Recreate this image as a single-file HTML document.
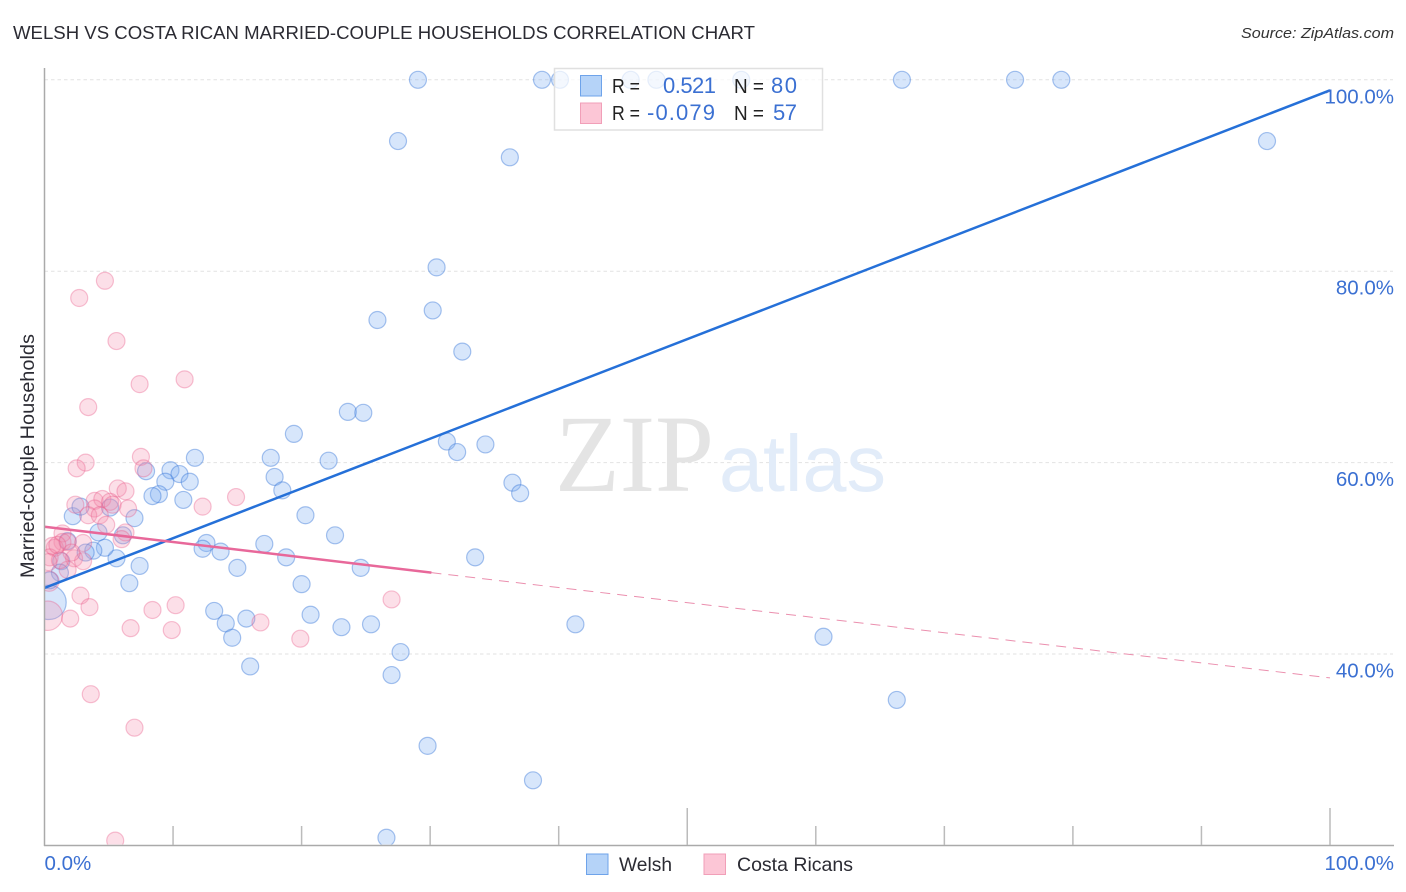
<!DOCTYPE html>
<html lang="en">
<head>
<meta charset="utf-8">
<title>Welsh vs Costa Rican Married-Couple Households Correlation Chart</title>
<style>
html,body{margin:0;padding:0;background:#fff;width:1406px;height:892px;overflow:hidden}
svg{display:block;font-family:"Liberation Sans",sans-serif;filter:blur(0.35px)}
</style>
</head>
<body>
<svg id="chart" width="1406" height="892" viewBox="0 0 1406 892" xmlns="http://www.w3.org/2000/svg">
  <defs>
    <clipPath id="plot-clip"><rect x="45" y="60" width="1350" height="784.5"></rect></clipPath>
  </defs>
  <rect x="0" y="0" width="1406" height="892" fill="#fff"></rect>
  <text x="13" y="39" font-size="18.5" fill="#2b2b33" textLength="742" lengthAdjust="spacingAndGlyphs">WELSH VS COSTA RICAN MARRIED-COUPLE HOUSEHOLDS CORRELATION CHART</text>
  <text x="1394" y="38" font-size="15" font-style="italic" fill="#333" text-anchor="end" textLength="153" lengthAdjust="spacingAndGlyphs">Source: ZipAtlas.com</text>
  <g id="grid"></g>
  <g>
    <text x="555" y="491" font-family="'Liberation Serif',serif" font-size="110" fill="#e4e4e4" textLength="159" lengthAdjust="spacingAndGlyphs">ZIP</text>
    <text x="719" y="491" font-size="80" fill="#e2ecf9" textLength="167" lengthAdjust="spacingAndGlyphs">atlas</text>
  </g>
  <g id="points" clip-path="url(#plot-clip)"></g>
  <g id="trends"></g>
  <g id="axes">
    <line x1="44.5" y1="68" x2="44.5" y2="846" stroke="#aaa" stroke-width="1.5"></line>
    <line x1="44" y1="845.5" x2="1394" y2="845.5" stroke="#aaa" stroke-width="1.5"></line>
  </g>
  <g id="ytick-labels"></g>
  <g id="xtick-labels"></g>
  <text transform="translate(34,578) rotate(-90)" font-size="19" fill="#2b2b33" textLength="244" lengthAdjust="spacingAndGlyphs">Married-couple Households</text>

  <g>
    <rect x="554.5" y="68.5" width="268" height="61.5" fill="#fff" fill-opacity="0.72" stroke="#e0e0e0" stroke-width="1.5"></rect>
    <rect x="580.5" y="75.5" width="21" height="20.5" fill="#b5d3f8" stroke="#6ea3ea" stroke-width="1"></rect>
    <rect x="580.5" y="103" width="21" height="20.5" fill="#fcc6d6" stroke="#f19fb8" stroke-width="1"></rect>
    <text x="612" y="93" font-size="20" fill="#222" textLength="28" lengthAdjust="spacingAndGlyphs">R =</text>
    <text x="663" y="93" font-size="22" fill="#3b70d2" textLength="53">0.521</text>
    <text x="734" y="93" font-size="20" fill="#222" textLength="30" lengthAdjust="spacingAndGlyphs">N =</text>
    <text x="771" y="93" font-size="22" fill="#3b70d2" textLength="26">80</text>
    <text x="612" y="120" font-size="20" fill="#222" textLength="28" lengthAdjust="spacingAndGlyphs">R =</text>
    <text x="647" y="120" font-size="22" fill="#3b70d2" textLength="68">-0.079</text>
    <text x="734" y="120" font-size="20" fill="#222" textLength="30" lengthAdjust="spacingAndGlyphs">N =</text>
    <text x="773" y="120" font-size="22" fill="#3b70d2" textLength="24">57</text>
  </g>

  <g>
    <rect x="586.5" y="854" width="21.5" height="20.5" fill="#b5d3f8" stroke="#6ea3ea" stroke-width="1"></rect>
    <text x="619" y="871" font-size="19.5" fill="#2b2b33" textLength="53" lengthAdjust="spacingAndGlyphs">Welsh</text>
    <rect x="704" y="854" width="21.5" height="20.5" fill="#fcc6d6" stroke="#f19fb8" stroke-width="1"></rect>
    <text x="737" y="871" font-size="19.5" fill="#2b2b33" textLength="116" lengthAdjust="spacingAndGlyphs">Costa Ricans</text>
  </g>
</svg>
<script>
const yGridValues = [100, 80, 60, 40];
const yTickLabels = ['100.0%', '80.0%', '60.0%', '40.0%'];
const xMinorTicks = [10, 20, 30, 40, 60, 70, 80, 90];
const xMajorTicks = [50, 100];
const xTickValues = [0, 100];
const xTickLabels = ['0.0%', '100.0%'];

const welshX = [29.05, 38.7, 40.1, 45.6, 47.6, 54.2, 66.7, 75.5, 79.1, 27.5, 36.2, 95.1, 30.5, 30.2, 25.9, 32.5, 23.6, 24.8, 31.3, 32.1, 34.3, 22.1, 36.4, 37.0, 19.4, 11.7, 17.6, 9.8, 10.5, 7.9, 9.4, 11.3, 17.9, 18.5, 8.9, 8.4, 10.8, 20.3, 2.2, 2.8, 5.1, 7.0, 4.2, 6.1, 12.6, 12.3, 13.7, 17.1, 15.0, 18.8, 20.0, 20.7, 7.4, 5.6, 6.6, 4.7, 3.8, 3.2, 1.8, 1.3, 1.2, 0.4, 13.2, 14.1, 15.7, 14.6, 16.0, 22.6, 24.6, 23.1, 25.4, 27.7, 27.0, 29.8, 38.0, 26.6, 33.5, 41.3, 60.6, 66.3];
const welshY = [100, 100, 100, 100, 100, 100, 100, 100, 100, 93.6, 91.9, 93.6, 80.4, 75.9, 74.9, 71.6, 65.3, 65.2, 62.2, 61.1, 61.9, 60.2, 57.9, 56.8, 63.0, 60.5, 60.5, 59.2, 58.8, 59.1, 58.0, 58.0, 58.5, 57.1, 56.7, 56.5, 56.1, 54.5, 54.4, 55.4, 55.3, 54.2, 52.7, 52.4, 51.6, 51.0, 50.7, 51.5, 49.0, 50.1, 47.3, 44.1, 49.2, 50.0, 47.4, 51.1, 50.8, 50.6, 51.8, 49.7, 48.5, 47.7, 44.5, 43.2, 43.7, 41.7, 38.7, 52.4, 49.0, 42.8, 43.1, 40.2, 37.8, 30.4, 26.8, 20.8, 50.1, 43.1, 41.8, 35.2];
const welshLargeX = [0.35];
const welshLargeY = [45.4];
const welshLargeWeight = [4.1];

const costaX = [7.5, 7.7, 3.2, 2.5, 5.7, 6.3, 14.9, 12.3, 2.4, 3.9, 4.5, 5.1, 5.3, 6.5, 3.9, 3.4, 4.3, 4.8, 6.3, 6.0, 1.4, 1.4, 0.8, 0.6, 3.0, 0.4, 2.3, 3.0, 1.8, 2.8, 3.5, 2.0, 8.4, 10.2, 6.7, 9.9, 16.8, 19.9, 4.7, 2.7, 5.6, 7.4, 10.9, 3.4, 27.0, 3.6, 7.0, 5.5, 1.8, 1.0, 2.1, 1.2, 0.3];
const costaY = [60.6, 59.4, 60.0, 59.4, 57.3, 57.0, 56.4, 55.4, 55.6, 56.0, 56.2, 55.9, 55.6, 55.2, 55.2, 54.5, 54.5, 53.5, 52.7, 52.0, 52.6, 51.7, 51.1, 51.3, 51.6, 50.1, 50.0, 49.7, 48.8, 46.1, 44.9, 43.7, 44.6, 45.1, 42.7, 42.5, 43.3, 41.6, 79.0, 77.2, 72.7, 68.2, 68.7, 65.8, 45.7, 35.8, 32.3, 20.5, 51.7, 51.4, 50.6, 49.8, 49.6];
const costaLargeX = [0.35, 0.25];
const costaLargeY = [47.6, 44.0];
const costaLargeWeight = [1.4, 3.0];

const welshTrendX = [0, 100];
const welshTrendY = [46.9, 98.9];
const costaTrendSolidX = [0, 30.1];
const costaTrendSolidY = [53.3, 48.5];
const costaTrendDashX = [30.1, 100];
const costaTrendDashY = [48.5, 37.5];

const SVG_NS = 'http://www.w3.org/2000/svg';
function xScale(v) { return 44.5 + v * 12.855; }
function yScale(v) { return 654 - (v - 40) * 9.57; }
function rScale(w) { return 8.5 * Math.sqrt(w); }
function make(parent, tag, attrs, text) {
  const el = document.createElementNS(SVG_NS, tag);
  for (const k in attrs) el.setAttribute(k, attrs[k]);
  if (text !== undefined) el.textContent = text;
  parent.appendChild(el);
  return el;
}

const grid = document.getElementById('grid');
const yLabels = document.getElementById('ytick-labels');
yGridValues.forEach(function (v, i) {
  const line = make(grid, 'line', { x1: 44.5, x2: 1393, y1: yScale(v), y2: yScale(v), stroke: '#e2e2e2', 'stroke-width': 1, 'stroke-dasharray': '3.5 3' });
  
  
  const label = make(yLabels, 'text', { x: 1394, y: yScale(v) + 23.5, 'font-size': 20.5, fill: '#3b70d2', 'text-anchor': 'end' }, yTickLabels[i]);
  
  
});

const axes = document.getElementById('axes');
xMinorTicks.forEach(function (v) {
  const t = make(axes, 'line', { x1: xScale(v), x2: xScale(v), y1: 826, y2: 845, stroke: '#bbb', 'stroke-width': 1.5 });
  
  
});
xMajorTicks.forEach(function (v) {
  const t = make(axes, 'line', { x1: xScale(v), x2: xScale(v), y1: 808, y2: 845, stroke: '#bbb', 'stroke-width': 1.5 });
  
  
});

const xLabels = document.getElementById('xtick-labels');
xTickValues.forEach(function (v, i) {
  const anchor = i === 0 ? 'start' : 'end';
  const px = i === 0 ? xScale(v) : 1394;
  const label = make(xLabels, 'text', { x: px, y: 870, 'font-size': 20.5, fill: '#3b70d2', 'text-anchor': anchor }, xTickLabels[i]);
  
  
});

const points = document.getElementById('points');
const welshStyle = { fill: 'rgba(130,178,242,0.32)', stroke: 'rgba(50,115,215,0.42)', 'stroke-width': 1.2 };
const costaStyle = { fill: 'rgba(245,140,172,0.28)', stroke: 'rgba(232,90,135,0.36)', 'stroke-width': 1.2 };
function drawPoint(vx, vy, w, style) {
  const attrs = { cx: xScale(vx), cy: yScale(vy), r: rScale(w) };
  for (const k in style) attrs[k] = style[k];
  return make(points, 'circle', attrs);
}
welshLargeX.forEach(function (v, i) {
  const c = drawPoint(v, welshLargeY[i], welshLargeWeight[i], welshStyle);
  
  
});
welshX.forEach(function (v, i) {
  const c = drawPoint(v, welshY[i], 1, welshStyle);
  
  
});
costaLargeX.forEach(function (v, i) {
  const c = drawPoint(v, costaLargeY[i], costaLargeWeight[i], costaStyle);
  
  
});
costaX.forEach(function (v, i) {
  const c = drawPoint(v, costaY[i], 1, costaStyle);
  
  
});

const trends = document.getElementById('trends');
const trendWelsh = make(trends, 'line', { x1: xScale(welshTrendX[0]), y1: yScale(welshTrendY[0]), x2: xScale(welshTrendX[1]), y2: yScale(welshTrendY[1]), stroke: '#2570d8', 'stroke-width': 2.5 });


const trendCostaDash = make(trends, 'line', { x1: xScale(costaTrendDashX[0]), y1: yScale(costaTrendDashY[0]), x2: xScale(costaTrendDashX[1]), y2: yScale(costaTrendDashY[1]), stroke: '#eb8fae', 'stroke-width': 1, 'stroke-dasharray': '10 7' });


const trendCosta = make(trends, 'line', { x1: xScale(costaTrendSolidX[0]), y1: yScale(costaTrendSolidY[0]), x2: xScale(costaTrendSolidX[1]), y2: yScale(costaTrendSolidY[1]), stroke: '#e8689a', 'stroke-width': 2.5 });


</script>
</body>
</html>
